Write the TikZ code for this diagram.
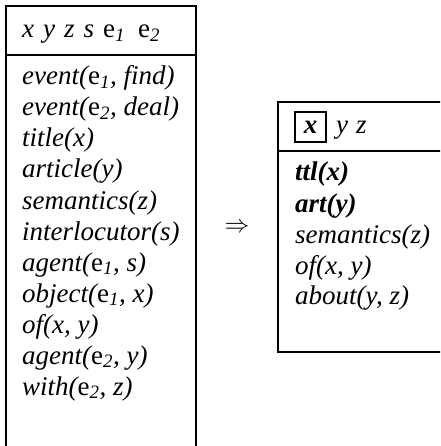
\documentclass[tikz,border=0pt]{standalone}
\usepackage{fontspec}
\setmainfont{Liberation Serif}
\newcommand{\ev}[1]{{\upshape e}\textsubscript{#1}}
\begin{document}
\begin{tikzpicture}[x=1pt,y=-1pt,
  boxline/.style={line width=2pt},
  txt/.style={anchor=base west, inner sep=0pt, font=\fontsize{27}{31}\selectfont\itshape},
  boldtxt/.style={txt, font=\fontsize{27}{31}\selectfont\itshape\bfseries},
  xbox/.style={draw, line width=1.6pt, minimum width=31pt, minimum height=30pt, inner sep=0pt, font=\fontsize{27}{31}\selectfont\itshape\bfseries}]
\useasboundingbox (0,0) rectangle (440,446);
\clip (0,0) rectangle (440,446);
% left box
\draw[boxline] (6,6) rectangle (196,470);
\draw[boxline] (6,55) -- (196,55);
\node[txt] (lh) at (22,38) {x\hspace{9pt}y\hspace{9pt}z\hspace{9pt}s\hspace{9pt}\ev{1}\hspace{13pt}\ev{2}};
\node[txt] (l1) at (22,85) {event(\ev{1}, find)};
\node[txt] (l2) at (22,116) {event(\ev{2}, deal)};
\node[txt] (l3) at (22,147) {title(x)};
\node[txt] (l4) at (22,178) {article(y)};
\node[txt] (l5) at (22,209) {semantics(z)};
\node[txt] (l6) at (22,240) {interlocutor(s)};
\node[txt] (l7) at (22,271) {agent(\ev{1}, s)};
\node[txt] (l8) at (22,302) {object(\ev{1}, x)};
\node[txt] (l9) at (22,333) {of(x, y)};
\node[txt] (l10) at (22,364) {agent(\ev{2}, y)};
\node[txt] (l11) at (22,395) {with(\ev{2}, z)};
% arrow
\node[inner sep=0pt, font=\fontsize{27}{31}\selectfont] (arr) at (237,228) {$\Rightarrow$};
% right box
\draw[boxline] (278,102) rectangle (470,352);
\draw[boxline] (278,151) -- (470,151);
\node[xbox] (xb) at (310.5,127) {x};
\node[txt] (rh) at (336,134) {y\hspace{8pt}z};
\node[boldtxt] (r1) at (295,181) {ttl(x)};
\node[boldtxt] (r2) at (295,212) {art(y)};
\node[txt] (r3) at (295,243) {semantics(z)};
\node[txt] (r4) at (295,274) {of(x, y)};
\node[txt] (r5) at (295,304) {about(y, z)};
\end{tikzpicture}
\end{document}
